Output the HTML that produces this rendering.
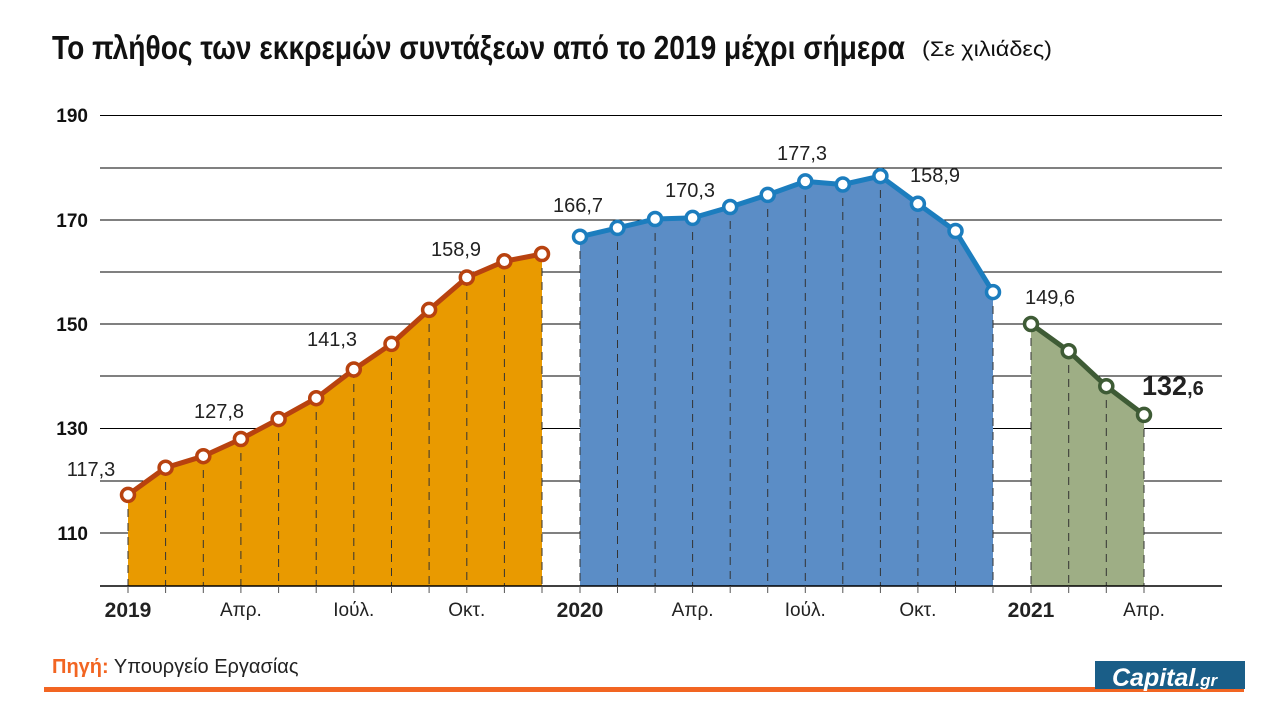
<!DOCTYPE html>
<html><head><meta charset="utf-8"><style>
body{margin:0;background:#fff;width:1280px;height:723px;overflow:hidden}
svg{display:block}
.n{font-family:"Liberation Sans Narrow","Liberation Sans",sans-serif}
</style></head><body>
<svg width="1280" height="723" viewBox="0 0 1280 723" xmlns="http://www.w3.org/2000/svg">
<text x="52" y="59" class="n" font-size="33" font-weight="bold" fill="#111" textLength="853" lengthAdjust="spacingAndGlyphs">Το πλήθος των εκκρεμών συντάξεων από το 2019 μέχρι σήμερα</text>
<text x="922" y="56" class="n" font-size="21" fill="#111" textLength="130" lengthAdjust="spacingAndGlyphs">(Σε χιλιάδες)</text>
<g stroke="#000" stroke-width="1">
<line x1="100" y1="115.5" x2="1222" y2="115.5"/><line x1="100" y1="168" x2="1222" y2="168"/>
<line x1="100" y1="220" x2="1222" y2="220"/><line x1="100" y1="272" x2="1222" y2="272"/>
<line x1="100" y1="324" x2="1222" y2="324"/><line x1="100" y1="376" x2="1222" y2="376"/>
<line x1="100" y1="428.5" x2="1222" y2="428.5"/><line x1="100" y1="481" x2="1222" y2="481"/>
<line x1="100" y1="533" x2="1222" y2="533"/>
</g>
<g class="n" font-size="19" font-weight="bold" fill="#111" text-anchor="end">
<text x="88" y="122">190</text><text x="88" y="227">170</text><text x="88" y="331">150</text><text x="88" y="435">130</text><text x="88" y="540">110</text>
</g>
<polygon fill="#E99A00" points="128,586 128,494.9 165.6,467.7 203.3,456.2 240.9,439 278.6,419.1 316.2,398.2 353.8,369.5 391.5,343.9 429.1,309.9 466.8,277.5 504.4,261.3 542,254 542,586"/>
<polygon fill="#5B8DC6" points="580,586 580,236.7 617.5,227.9 655.1,219 692.6,217.9 730.2,207 767.7,194.9 805.3,181.4 842.8,184.5 880.4,176.1 917.9,203.8 955.5,231 993,292.1 993,586"/>
<polygon fill="#9EAE85" points="1031,586 1031,324 1068.7,351.2 1106.3,386.2 1144,414.9 1144,586"/>
<g stroke="#333" stroke-width="1" stroke-dasharray="8,6">
<line x1="128" y1="495" x2="128" y2="586"/><line x1="165.6" y1="468" x2="165.6" y2="586"/><line x1="203.3" y1="456" x2="203.3" y2="586"/><line x1="240.9" y1="439" x2="240.9" y2="586"/><line x1="278.6" y1="419" x2="278.6" y2="586"/><line x1="316.2" y1="398" x2="316.2" y2="586"/><line x1="353.8" y1="370" x2="353.8" y2="586"/><line x1="391.5" y1="344" x2="391.5" y2="586"/><line x1="429.1" y1="310" x2="429.1" y2="586"/><line x1="466.8" y1="278" x2="466.8" y2="586"/><line x1="504.4" y1="261" x2="504.4" y2="586"/><line x1="542" y1="254" x2="542" y2="586"/>
<line x1="580" y1="237" x2="580" y2="586"/><line x1="617.5" y1="228" x2="617.5" y2="586"/><line x1="655.1" y1="219" x2="655.1" y2="586"/><line x1="692.6" y1="218" x2="692.6" y2="586"/><line x1="730.2" y1="207" x2="730.2" y2="586"/><line x1="767.7" y1="195" x2="767.7" y2="586"/><line x1="805.3" y1="181" x2="805.3" y2="586"/><line x1="842.8" y1="184" x2="842.8" y2="586"/><line x1="880.4" y1="176" x2="880.4" y2="586"/><line x1="917.9" y1="204" x2="917.9" y2="586"/><line x1="955.5" y1="231" x2="955.5" y2="586"/><line x1="993" y1="292" x2="993" y2="586"/>
<line x1="1031" y1="324" x2="1031" y2="586"/><line x1="1068.7" y1="351" x2="1068.7" y2="586"/><line x1="1106.3" y1="386" x2="1106.3" y2="586"/><line x1="1144" y1="415" x2="1144" y2="586"/>
</g>
<line x1="100" y1="586" x2="1222" y2="586" stroke="#000" stroke-width="1.5"/>
<g stroke="#555" stroke-width="1">
<line x1="128" y1="586" x2="128" y2="593"/><line x1="165.6" y1="586" x2="165.6" y2="593"/><line x1="203.3" y1="586" x2="203.3" y2="593"/><line x1="240.9" y1="586" x2="240.9" y2="593"/><line x1="278.6" y1="586" x2="278.6" y2="593"/><line x1="316.2" y1="586" x2="316.2" y2="593"/><line x1="353.8" y1="586" x2="353.8" y2="593"/><line x1="391.5" y1="586" x2="391.5" y2="593"/><line x1="429.1" y1="586" x2="429.1" y2="593"/><line x1="466.8" y1="586" x2="466.8" y2="593"/><line x1="504.4" y1="586" x2="504.4" y2="593"/><line x1="542" y1="586" x2="542" y2="593"/>
<line x1="580" y1="586" x2="580" y2="593"/><line x1="617.5" y1="586" x2="617.5" y2="593"/><line x1="655.1" y1="586" x2="655.1" y2="593"/><line x1="692.6" y1="586" x2="692.6" y2="593"/><line x1="730.2" y1="586" x2="730.2" y2="593"/><line x1="767.7" y1="586" x2="767.7" y2="593"/><line x1="805.3" y1="586" x2="805.3" y2="593"/><line x1="842.8" y1="586" x2="842.8" y2="593"/><line x1="880.4" y1="586" x2="880.4" y2="593"/><line x1="917.9" y1="586" x2="917.9" y2="593"/><line x1="955.5" y1="586" x2="955.5" y2="593"/><line x1="993" y1="586" x2="993" y2="593"/>
<line x1="1031" y1="586" x2="1031" y2="593"/><line x1="1068.7" y1="586" x2="1068.7" y2="593"/><line x1="1106.3" y1="586" x2="1106.3" y2="593"/><line x1="1144" y1="586" x2="1144" y2="593"/>
</g>
<polyline fill="none" stroke="#B8420F" stroke-width="5" stroke-linejoin="round" points="128,494.9 165.6,467.7 203.3,456.2 240.9,439 278.6,419.1 316.2,398.2 353.8,369.5 391.5,343.9 429.1,309.9 466.8,277.5 504.4,261.3 542,254"/>
<polyline fill="none" stroke="#1C7DBE" stroke-width="5" stroke-linejoin="round" points="580,236.7 617.5,227.9 655.1,219 692.6,217.9 730.2,207 767.7,194.9 805.3,181.4 842.8,184.5 880.4,176.1 917.9,203.8 955.5,231 993,292.1"/>
<polyline fill="none" stroke="#3E5B35" stroke-width="5" stroke-linejoin="round" points="1031,324 1068.7,351.2 1106.3,386.2 1144,414.9"/>
<g fill="#fff" stroke="#B8420F" stroke-width="3.5">
<circle cx="128" cy="494.9" r="6.5"/><circle cx="165.6" cy="467.7" r="6.5"/><circle cx="203.3" cy="456.2" r="6.5"/><circle cx="240.9" cy="439" r="6.5"/><circle cx="278.6" cy="419.1" r="6.5"/><circle cx="316.2" cy="398.2" r="6.5"/><circle cx="353.8" cy="369.5" r="6.5"/><circle cx="391.5" cy="343.9" r="6.5"/><circle cx="429.1" cy="309.9" r="6.5"/><circle cx="466.8" cy="277.5" r="6.5"/><circle cx="504.4" cy="261.3" r="6.5"/><circle cx="542" cy="254" r="6.5"/>
</g>
<g fill="#fff" stroke="#1C7DBE" stroke-width="3.5">
<circle cx="580" cy="236.7" r="6.5"/><circle cx="617.5" cy="227.9" r="6.5"/><circle cx="655.1" cy="219" r="6.5"/><circle cx="692.6" cy="217.9" r="6.5"/><circle cx="730.2" cy="207" r="6.5"/><circle cx="767.7" cy="194.9" r="6.5"/><circle cx="805.3" cy="181.4" r="6.5"/><circle cx="842.8" cy="184.5" r="6.5"/><circle cx="880.4" cy="176.1" r="6.5"/><circle cx="917.9" cy="203.8" r="6.5"/><circle cx="955.5" cy="231" r="6.5"/><circle cx="993" cy="292.1" r="6.5"/>
</g>
<g fill="#fff" stroke="#3E5B35" stroke-width="3.5">
<circle cx="1031" cy="324" r="6.5"/><circle cx="1068.7" cy="351.2" r="6.5"/><circle cx="1106.3" cy="386.2" r="6.5"/><circle cx="1144" cy="414.9" r="6.5"/>
</g>
<g class="n" font-size="20" fill="#222" text-anchor="middle">
<text x="91" y="476">117,3</text><text x="219" y="418">127,8</text><text x="332" y="346">141,3</text><text x="456" y="256">158,9</text>
<text x="578" y="212">166,7</text><text x="690" y="197">170,3</text><text x="802" y="160">177,3</text><text x="935" y="182">158,9</text>
<text x="1050" y="304">149,6</text>
</g>
<text x="1142" y="395" class="n" font-size="27" font-weight="bold" fill="#222">132<tspan font-size="20">,6</tspan></text>
<g class="n" font-size="19" fill="#222" text-anchor="middle">
<text x="128" y="617" font-weight="bold" font-size="21">2019</text><text x="240.9" y="616">Απρ.</text><text x="353.8" y="616">Ιούλ.</text><text x="466.8" y="616">Οκτ.</text>
<text x="580" y="617" font-weight="bold" font-size="21">2020</text><text x="692.6" y="616">Απρ.</text><text x="805.3" y="616">Ιούλ.</text><text x="917.9" y="616">Οκτ.</text>
<text x="1031" y="617" font-weight="bold" font-size="21">2021</text><text x="1144" y="616">Απρ.</text>
</g>
<text x="52" y="673" class="n" font-size="20" fill="#222"><tspan fill="#F26522" font-weight="bold">Πηγή:</tspan> Υπουργείο Εργασίας</text>
<rect x="44" y="687" width="1200" height="5" fill="#F26522"/>
<rect x="1095" y="661" width="150" height="28" fill="#1A5E88"/>
<text x="1112" y="686" font-family="Liberation Sans,sans-serif" font-size="25" font-weight="bold" font-style="italic" fill="#fff">Capital<tspan font-size="17">.gr</tspan></text>
</svg>
</body></html>
